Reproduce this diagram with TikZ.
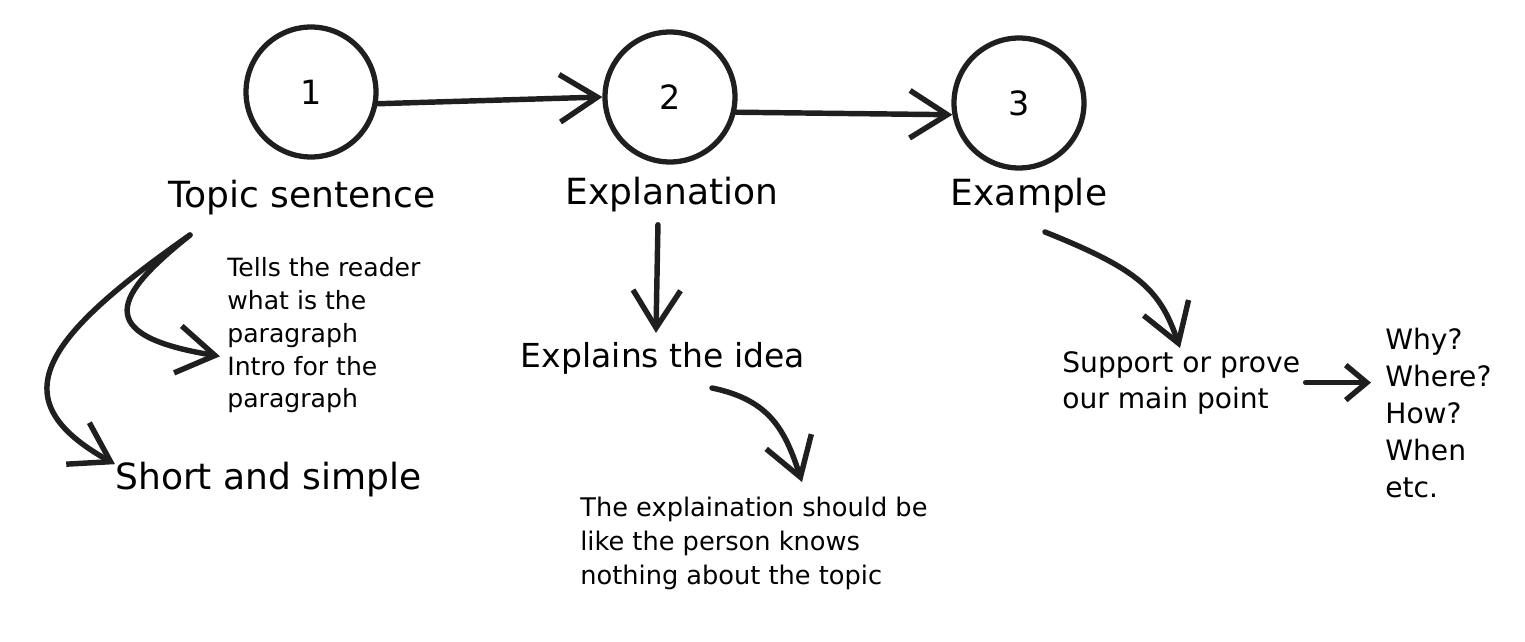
\documentclass[tikz,border=0pt]{standalone}
\usepackage{fontspec}
\setmainfont{DejaVu Sans}
\usetikzlibrary{arrows.meta,positioning}

\begin{document}
\begin{tikzpicture}[x=0.02cm,y=-0.02cm,
    stage/.style={circle,draw=ink,line width=3pt,minimum size=2.6cm,font=\fontsize{19}{23}\selectfont},
    title/.style={inner sep=0pt,font=\fontsize{20.5}{25}\selectfont},
    note/.style={inner sep=0pt,align=left,font=\fontsize{14.3}{18.7}\selectfont},
    pen/.style={draw=ink,line width=3.1pt,line cap=round,line join=round,
        -{Straight Barb[length=0.75cm,width=0.95cm,line width=3.1pt]}},
    smallpen/.style={pen,-{Straight Barb[length=0.42cm,width=0.7cm,line width=3.1pt]}}]
    \colorlet{ink}{black!88}

    \useasboundingbox (0,0) rectangle (1525,642);

    % Stages
    \node[stage] (one) at (311,92) {1};
    \node[stage] (two) at (670,97) {2};
    \node[stage] (three) at (1019,103) {3};
    \draw[pen] (one.-10) -- (two.180);
    \draw[pen] (two.-13) -- (three.190);

    % Titles
    \node[title] (topic) at (302,198) {Topic sentence};
    \node[title] (expl) at (672,195) {Explanation};
    \node[title] (exmp) at (1029,196) {Example};

    % Topic sentence branch
    \node[note,anchor=north west] (tells) at (227,257)
        {Tells the reader\\what is the\\paragraph\\Intro for the\\paragraph};
    \node[title,anchor=west] (short) at (115,480) {Short and simple};
    \coordinate (topic-out) at (190,235);
    \draw[pen] (topic-out) .. controls (115,295) and (90,335) .. ([xshift=-4pt,yshift=-12pt]tells.west);
    \draw[pen] (topic-out) .. controls (40,340) and (0,400) .. ([yshift=9pt]short.west);

    % Explanation branch
    \node[title,font=\fontsize{18.8}{23}\selectfont] (idea) at (663,358) {Explains the idea};
    \node[note,anchor=north west,font=\fontsize{14.6}{19.3}\selectfont] (detail) at (580,497)
        {The explaination should be\\like the person knows\\nothing about the topic};
    \draw[pen] ([xshift=-8pt]expl.south) ++(0,12) -- ([xshift=-4pt,yshift=5pt]idea.north);
    \coordinate (idea-out) at (712,388);
    \draw[pen] (idea-out) .. controls (770,400) and (785,430) .. (802,482);

    % Example branch
    \node[note,anchor=north west,font=\fontsize{16}{20.4}\selectfont] (support) at (1062,351)
        {Support or prove\\our main point};
    \node[note,anchor=north west,font=\fontsize{16}{21}\selectfont] (why) at (1385,328)
        {Why?\\Where?\\How?\\When\\etc.};
    \coordinate (exmp-out) at (1045,232);
    \draw[pen] (exmp-out) .. controls (1140,270) and (1160,290) .. (1180,348);
    \draw[smallpen] ([xshift=3pt]support.east) -- ([xshift=-8pt]support.east -| why.west);

\end{tikzpicture}
\end{document}
